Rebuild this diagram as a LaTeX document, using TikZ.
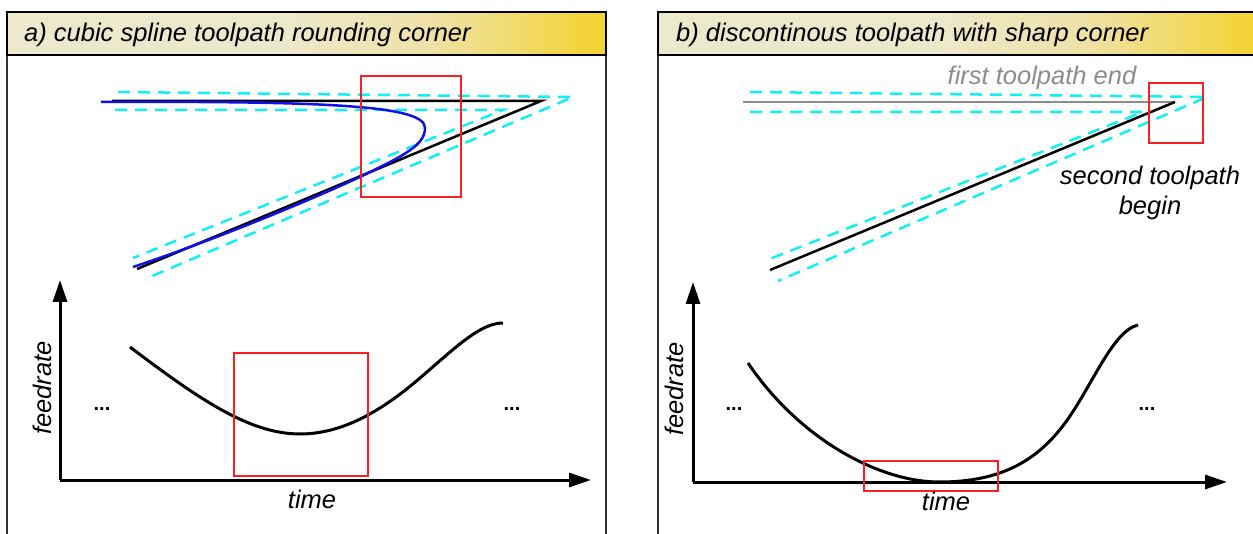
\documentclass[tikz,border=0pt]{standalone}
\usepackage{fontspec}
\setmainfont{Liberation Sans}
\usetikzlibrary{arrows.meta}
\definecolor{barpale}{HTML}{ECE8CB}
\definecolor{barmid}{HTML}{EEE2A8}
\definecolor{baryel}{HTML}{F4D22E}
\definecolor{pathcyan}{HTML}{10F0F4}
\definecolor{pathblue}{HTML}{1010E8}
\definecolor{boxred}{HTML}{FF1E1E}
\definecolor{pathgray}{HTML}{8C8C8C}
\pgfdeclarehorizontalshading{titlebar}{100bp}{color(0bp)=(barpale); color(25bp)=(barpale); color(48bp)=(barpale); color(60bp)=(barmid); color(75bp)=(baryel); color(100bp)=(baryel)}
\tikzset{
  lbl/.style={font=\fontsize{25.5}{30}\selectfont\itshape, inner sep=0pt},
  ttl/.style={lbl, anchor=base west},
  bar/.style={shading=titlebar, draw=black, line width=2.2pt},
  frameline/.style={draw=black!80, line width=2pt},
  tool/.style={draw=black, line width=2.5pt},
  spline/.style={draw=pathblue, line width=2.5pt},
  offs/.style={draw=pathcyan, line width=2.5pt, dash pattern=on 12pt off 8pt},
  hl/.style={draw=boxred, line width=2.5pt},
  axis/.style={draw=black, line width=3pt, -{Triangle[length=22pt,width=14pt]}},
  feed/.style={draw=black, line width=3pt},
  dots/.style={font=\fontsize{20}{24}\selectfont\bfseries, inner sep=0pt, anchor=base}
}
\begin{document}
\begin{tikzpicture}[x=1pt,y=-1pt]
\useasboundingbox (0,0) rectangle (1253,534);
\clip (0,0) rectangle (1253,534);

% ---------- panel a ----------
\draw[frameline] (7,55) -- (7,540);
\draw[frameline] (606,55) -- (606,540);
\path[bar] (7,12) rectangle (606,55);
\node[ttl] (ta) at (24,42) {a) cubic spline toolpath rounding corner};

\coordinate (a1) at (112,101);
\coordinate (ac) at (541,101);
\coordinate (a2) at (137,269);
\coordinate (ao1) at (118,92);
\coordinate (aoc) at (573,97);
\coordinate (ao2) at (145,279);
\coordinate (ai1) at (115,110);
\coordinate (aic) at (503,110);
\coordinate (ai2) at (133,258);
\coordinate (bs) at (101,102);
\coordinate (bt) at (425,128);
\coordinate (bm) at (362,176);
\coordinate (be) at (133,267);

\draw[offs] (ao1) -- (aoc) -- (ao2);
\draw[offs] (ai1) -- (aic) -- (ai2);
\draw[tool] (a1) -- (ac) -- (a2);
\draw[spline] (bs) .. controls (335,101) and (425,106) .. (bt)
  .. controls (425,145) and (405,155) .. (bm)
  .. controls (300,205) and (200,245) .. (be);
\draw[hl] (361,76) rectangle (461,197);

\coordinate (oa) at (60,480);
\coordinate (ya) at (60,280);
\coordinate (xa) at (591,480);
\draw[axis] (oa) -- (ya);
\draw[axis] (oa) -- (xa);
\coordinate (fa0) at (130,347);
\coordinate (fa1) at (300,434);
\coordinate (fa2) at (420,378);
\coordinate (fa3) at (503,323);
\draw[feed] (fa0) .. controls (200,400) and (250,434) .. (fa1)
  .. controls (345,434) and (385,408) .. (fa2)
  .. controls (455,348) and (480,323) .. (fa3);
\draw[hl] (234,353) rectangle (368,476);
\node[dots] (dal) at (102,410) {...};
\node[dots] (dar) at (512,410) {...};
\node[lbl, rotate=90, anchor=base] (fra) at (51,388) {feedrate};
\node[lbl, anchor=base] (tma) at (312,508) {time};

% ---------- panel b ----------
\draw[frameline] (658,55) -- (658,540);
\path[bar] (658,12) rectangle (1262,55);
\node[ttl] (tb) at (676,42) {b) discontinous toolpath with sharp corner};

\coordinate (b1) at (743,102);
\coordinate (bc) at (1175,102);
\coordinate (b2) at (770,270);
\coordinate (bo1) at (750,92);
\coordinate (boc) at (1207,97);
\coordinate (bo2) at (778,281);
\coordinate (bi1) at (750,112);
\coordinate (bic) at (1143,112);
\coordinate (bi2) at (767,260);

\draw[offs] (bo1) -- (boc) -- (bo2);
\draw[offs] (bi1) -- (bic) -- (bi2);
\draw[draw=pathgray, line width=2.5pt] (b1) -- (bc);
\draw[tool] (bc) -- (b2);
\draw[hl] (1149,83) rectangle (1203,143);
\node[lbl, text=pathgray] (fte) at (1042,78) {first toolpath end};
\node[lbl, align=center] (stb) at (1150,193) {second toolpath\\begin};

\coordinate (ob) at (693,482);
\coordinate (yb) at (693,282);
\coordinate (xb) at (1227,482);
\draw[axis] (ob) -- (yb);
\draw[axis] (ob) -- (xb);
\coordinate (fb0) at (748,363);
\coordinate (fb1) at (939,482);
\coordinate (fb2) at (1072,413);
\coordinate (fb3) at (1138,325);
\draw[feed] (fb0) .. controls (800,440) and (880,482) .. (fb1)
  .. controls (1000,482) and (1040,462) .. (fb2)
  .. controls (1095,378) and (1115,330) .. (fb3);
\draw[hl] (864,461) rectangle (998,491);
\node[dots] (dbl) at (734,410) {...};
\node[dots] (dbr) at (1147,410) {...};
\node[lbl, rotate=90, anchor=base] (frb) at (683,389) {feedrate};
\node[lbl, anchor=base] (tmb) at (946,510) {time};
\end{tikzpicture}
\end{document}
